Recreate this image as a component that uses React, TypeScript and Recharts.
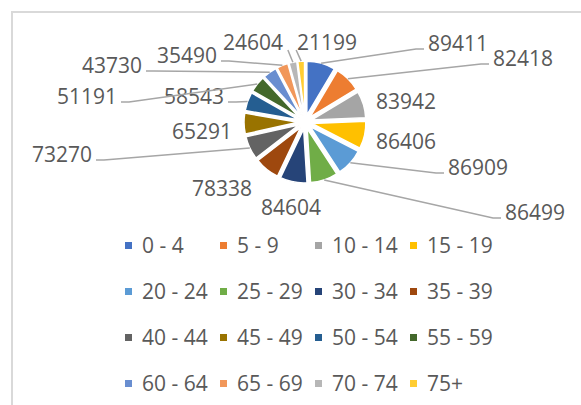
import { Legend, Pie, PieChart, Sector } from 'recharts'

const ageGroups = ['0 - 4', '5 - 9', '10 - 14', '15 - 19', '20 - 24', '25 - 29', '30 - 34', '35 - 39',
  '40 - 44', '45 - 49', '50 - 54', '55 - 59', '60 - 64', '65 - 69', '70 - 74', '75+']
const population = [89411, 82418, 83942, 86406, 86909, 86499, 84604, 78338,
  73270, 65291, 58543, 51191, 43730, 35490, 24604, 21199]

const colors = ['#4472C4', '#ED7D31', '#A5A5A5', '#FFC000', '#5B9BD5', '#70AD47', '#264478', '#9E480E',
  '#636363', '#997300', '#255E91', '#43682B', '#698ED0', '#F1975A', '#B7B7B7', '#FFCD33']

// label placement (offset of label centre from pie centre) and whether a leader line is drawn
const labelOffsets = [[153, -79], [218, -64], [101, -21], [101, 19], [173, 45], [230, 90], [-14, 85], [-83, 66],
  [-243, 32], [-103, 9], [-111, -26], [-218, -26], [-193, -57], [-118, -67], [-52, -80], [22, -80]]
const hasLeader = [true, true, false, false, true, true, false, false,
  true, false, true, true, true, true, true, true]

const data = ageGroups.map((name, i) => ({ name, value: population[i], fill: colors[i] }))

const RAD = Math.PI / 180
const EXPLODE = 7
const FONT = '"Open Sans", sans-serif'
const TEXT = '#595959'

// each slice pushed outwards along its mid angle (exploded pie)
const ExplodedSlice = (props: any) => {
  const mid = (props.startAngle + props.endAngle) / 2
  const dx = EXPLODE * Math.cos(-mid * RAD)
  const dy = EXPLODE * Math.sin(-mid * RAD)
  return <Sector {...props} cx={props.cx + dx} cy={props.cy + dy} />
}

const renderLabel = (props: any) => {
  const { cx, cy, midAngle, outerRadius, index, value } = props
  const [ox, oy] = labelOffsets[index]
  const lx = cx + ox
  const ly = cy + oy
  const halfW = 30
  let line = null
  if (hasLeader[index]) {
    const r = outerRadius + EXPLODE
    const sx = cx + r * Math.cos(-midAngle * RAD)
    const sy = cy + r * Math.sin(-midAngle * RAD)
    let pts: number[][]
    if (Math.abs(sx - lx) < halfW + 15) {
      pts = [[sx, sy], [sx - 5, ly + 8]]
    } else {
      const right = lx > sx
      const ex = right ? lx - halfW - 4 : lx + halfW + 4
      const ey = ly + 6
      const elbow = right ? ex - 8 : ex + 8
      pts = [[sx, sy], [elbow, ey], [ex, ey]]
    }
    line = (
      <polyline
        points={pts.map((p) => p.join(',')).join(' ')}
        fill='none'
        stroke='#a6a6a6'
        strokeWidth={1.5}
      />
    )
  }
  return (
    <g>
      {line}
      <text x={lx} y={ly + 7.5} textAnchor='middle' fontSize={21} fontFamily={FONT} fill={TEXT}>
        {value}
      </text>
    </g>
  )
}

const renderLegend = () => (
  <div style={{ display: 'grid', gridTemplateColumns: 'repeat(4, 95px)', fontFamily: FONT, fontSize: 21, color: TEXT }}>
    {ageGroups.map((name, i) => (
      <div key={name} style={{ height: 46, display: 'flex', alignItems: 'center', whiteSpace: 'nowrap' }}>
        <span style={{ width: 7, height: 7, background: colors[i], marginRight: 10, flex: 'none' }} />
        <span style={{ lineHeight: '21px' }}>{name}</span>
      </div>
    ))}
  </div>
)

export default function App() {
  return (
    <div style={{ position: 'absolute', left: 0, top: 0, width: 581, height: 405, overflow: 'hidden', background: '#fff' }}>
      <div
        style={{
          position: 'absolute', left: 11, top: 11, width: 620, height: 440,
          borderTop: '2px solid #d9d9d9', borderLeft: '2px solid #d9d9d9',
        }}
      />
      <PieChart width={581} height={405} style={{ position: 'absolute', left: 0, top: 0 }}>
        <Pie
          data={data}
          dataKey='value'
          nameKey='name'
          cx={300}
          cy={117}
          outerRadius={54}
          startAngle={90}
          endAngle={-270}
          stroke='#ffffff'
          strokeWidth={1.5}
          shape={ExplodedSlice}
          label={renderLabel}
          labelLine={false}
          isAnimationActive={false}
        />
        <Legend content={renderLegend} wrapperStyle={{ left: 125, top: 222, width: 400 }} />
      </PieChart>
    </div>
  )
}
